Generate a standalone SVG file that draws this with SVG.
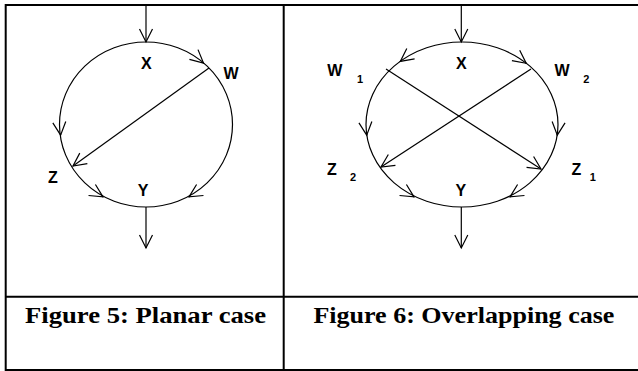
<svg xmlns="http://www.w3.org/2000/svg" width="638" height="371" viewBox="0 0 638 371">
<style>
.tb{stroke:#000;stroke-width:2;fill:none}
.ln{stroke:#000;stroke-width:1.2;fill:none}
.ar{stroke:#000;stroke-width:1.2;fill:none;marker-end:url(#a)}
.lb{font-family:"Liberation Sans",Arial,sans-serif;font-weight:bold;font-size:16px;fill:#000;text-anchor:middle}
.sb{font-family:"Liberation Sans",Arial,sans-serif;font-weight:bold;font-size:11px;fill:#000;text-anchor:middle}
.cap{font-family:"Liberation Serif","Times New Roman",serif;font-weight:bold;font-size:24px;fill:#000;text-anchor:middle}
</style>
<defs>
<marker id="a" markerUnits="userSpaceOnUse" markerWidth="20" markerHeight="20" viewBox="-15 -10 20 20" refX="0" refY="0" orient="auto" overflow="visible">
<path d="M-13,-6.5 L0,0 L-13,6.5" fill="none" stroke="#000" stroke-width="1.2"/>
</marker>
</defs>
<rect width="638" height="371" fill="#fff"/>
<g id="table">
<path class="tb" d="M5.7,5 H638 M5.7,4 V371 M283.7,5 V371 M5.7,296.7 H638 M5.7,370 H638"/>
</g>
<g id="fig5">
<g id="f5-cycle"><ellipse class="ln" cx="146" cy="124.5" rx="86.5" ry="82.5"/></g>
<g id="f5-X"><text class="lb" x="146.3" y="68.5">X</text></g>
<g id="f5-W"><text class="lb" x="231" y="79">W</text></g>
<g id="f5-Z"><text class="lb" x="53" y="183">Z</text></g>
<g id="f5-Y"><text class="lb" x="143" y="195.5">Y</text></g>
<g id="f5-caption"><text class="cap" x="145.5" y="322.7" textLength="241" lengthAdjust="spacingAndGlyphs">Figure 5: Planar case</text></g>
</g>
<g id="fig6">
<g id="f6-cycle"><ellipse class="ln" cx="462" cy="124.5" rx="96" ry="82.5"/></g>
<g id="f6-X"><text class="lb" x="461.3" y="68.5">X</text></g>
<g id="f6-W1"><text class="lb" x="334.7" y="75.5">W</text><text class="sb" x="360" y="83">1</text></g>
<g id="f6-W2"><text class="lb" x="562" y="75.5">W</text><text class="sb" x="586.3" y="83">2</text></g>
<g id="f6-Z2"><text class="lb" x="332" y="174.5">Z</text><text class="sb" x="353" y="180.5">2</text></g>
<g id="f6-Z1"><text class="lb" x="576.3" y="174.5">Z</text><text class="sb" x="592.7" y="180.5">1</text></g>
<g id="f6-Y"><text class="lb" x="460.8" y="195.5">Y</text></g>
<g id="f6-caption"><text class="cap" x="463.9" y="322.7" textLength="301" lengthAdjust="spacingAndGlyphs">Figure 6: Overlapping case</text></g>
</g>
<g id="connectors">
<path class="ar" d="M146,5 V42"/>
<path class="ar" d="M146,207 V248"/>
<path class="ar" d="M209,68 L73,166"/>
<path class="ar" d="M202.7,62.4 L203.5,63.1"/>
<path class="ar" d="M60.5,134.1 L60.6,135.1"/>
<path class="ar" d="M102.2,196.4 L103,196.9"/>
<path class="ar" d="M189.8,196.4 L189,196.9"/>
<path class="ar" d="M461.3,5 V42"/>
<path class="ar" d="M461.3,207 V248"/>
<path class="ar" d="M386,69 L541,169"/>
<path class="ar" d="M531,69 L381,167"/>
<path class="ar" d="M401.1,60.8 L400.3,61.4"/>
<path class="ar" d="M525.4,62.7 L526.2,63.3"/>
<path class="ar" d="M366.6,134.1 L366.7,135.1"/>
<path class="ar" d="M557.4,134.1 L557.3,135.1"/>
<path class="ar" d="M413.2,196.4 L414,196.9"/>
<path class="ar" d="M510.8,196.4 L510,196.9"/>
</g>
</svg>
